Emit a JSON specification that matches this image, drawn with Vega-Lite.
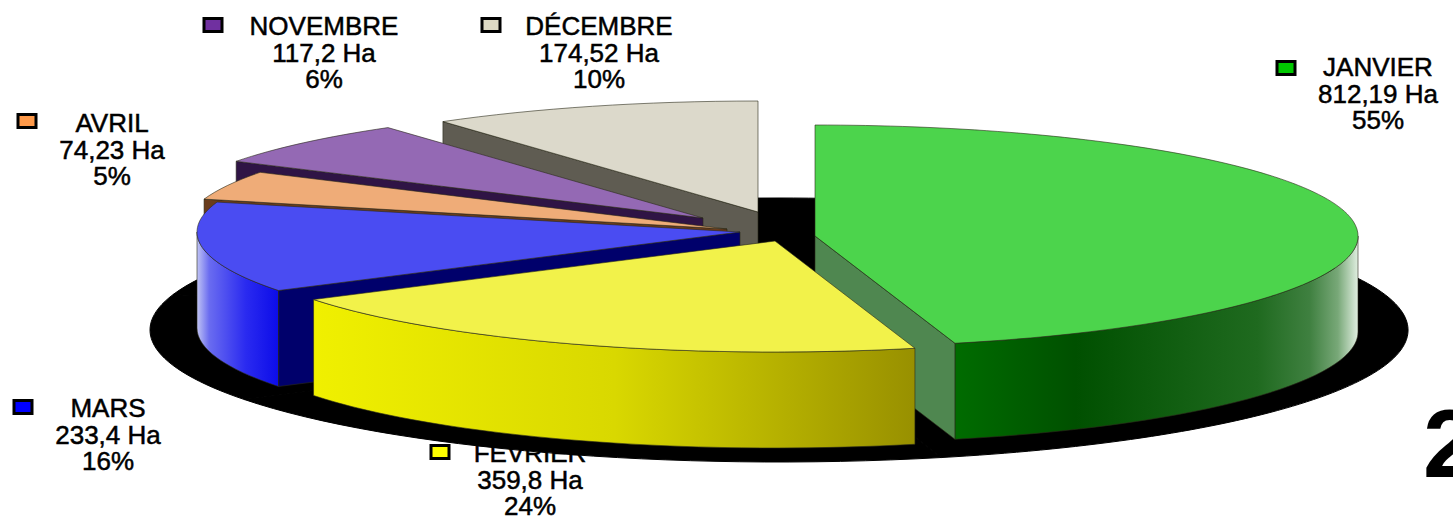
{
  "$schema": "https://vega.github.io/schema/vega-lite/v6.json",
  "width": 1453, "height": 517, "padding": 0, "autosize": {"type": "none"}, "background": "#ffffff",
  "config": {"view": {"stroke": null}},
  "data": {"values": [
    {"mois": "JANVIER", "hectares": 812.19, "pourcentage": 55},
    {"mois": "FEVRIER", "hectares": 359.8, "pourcentage": 24},
    {"mois": "MARS", "hectares": 233.4, "pourcentage": 16},
    {"mois": "AVRIL", "hectares": 74.23, "pourcentage": 5},
    {"mois": "NOVEMBRE", "hectares": 117.2, "pourcentage": 6},
    {"mois": "DÉCEMBRE", "hectares": 174.52, "pourcentage": 10}
  ]},
  "transform": [
    {"window": [{"op": "sum", "field": "hectares", "as": "cum"}, {"op": "row_number", "as": "i"}], "ignorePeers": true},
    {"joinaggregate": [{"op": "sum", "field": "hectares", "as": "total"}]},
    {"calculate": "-90+360*datum.cum/datum.total", "as": "a1"},
    {"calculate": "datum.a1-360*datum.hectares/datum.total", "as": "a0"}
  ],
  "layer": [
    {
      "transform": [
        {"calculate": "{'JANVIER':1378,'FEVRIER':530,'MARS':108,'AVRIL':112,'NOVEMBRE':324,'DÉCEMBRE':599}[datum.mois]", "as": "lx"},
        {"calculate": "{'JANVIER':76,'FEVRIER':462,'MARS':417,'AVRIL':132,'NOVEMBRE':35,'DÉCEMBRE':35}[datum.mois]", "as": "ly"},
        {"calculate": "datum.mois+'\\n'+replace(datum.hectares+'','.',',')+' Ha\\n'+datum.pourcentage+'%'", "as": "label"}
      ],
      "mark": {"type": "text", "font": "Liberation Sans", "fontSize": 26, "align": "center", "baseline": "alphabetic", "lineBreak": "\n", "lineHeight": 26.7, "fill": "#000000", "stroke": "#000000", "strokeWidth": 0.5},
      "encoding": {
        "x": {"field": "lx", "type": "quantitative", "scale": {"domain": [0, 1453], "range": [0, 1453], "nice": false, "zero": false}, "axis": null},
        "y": {"field": "ly", "type": "quantitative", "scale": {"domain": [0, 517], "range": [0, 517], "nice": false, "zero": false}, "axis": null},
        "text": {"field": "label", "type": "nominal"}
      }
    },
    {
      "transform": [
        {"calculate": "{'JANVIER':1286,'FEVRIER':440,'MARS':23,'AVRIL':27,'NOVEMBRE':213,'DÉCEMBRE':491}[datum.mois]", "as": "sx"},
        {"calculate": "{'JANVIER':68,'FEVRIER':452,'MARS':407,'AVRIL':121,'NOVEMBRE':25,'DÉCEMBRE':25}[datum.mois]", "as": "sy"}
      ],
      "mark": {"type": "point", "shape": "M-9,-6.5H9V6.5H-9Z", "size": 4, "filled": true, "opacity": 1, "stroke": "#000000", "strokeWidth": 3},
      "encoding": {
        "x": {"field": "sx", "type": "quantitative", "axis": null, "scale": {"domain": [0, 1453], "range": [0, 1453], "nice": false, "zero": false}},
        "y": {"field": "sy", "type": "quantitative", "axis": null, "scale": {"domain": [0, 517], "range": [0, 517], "nice": false, "zero": false}},
        "fill": {"field": "mois", "type": "nominal", "legend": null, "scale": {
          "domain": ["JANVIER", "FEVRIER", "MARS", "AVRIL", "NOVEMBRE", "DÉCEMBRE"],
          "range": ["#00c800", "#ffff00", "#0000ff", "#ff9a4a", "#7030a0", "#ddd9c3"]}}
      }
    },
    {
      "transform": [
        {"calculate": "'M779,330L'+(779+629*cos(datum.a0*PI/180))+','+(330+132*sin(datum.a0*PI/180))+'A629,132 0 0 1 '+(779+629*cos(datum.a1*PI/180))+','+(330+132*sin(datum.a1*PI/180))+'Z'", "as": "ombre"}
      ],
      "mark": {"type": "point", "filled": true, "opacity": 1, "fill": "#000000", "stroke": "#000000", "strokeWidth": 1},
      "encoding": {
        "x": {"value": 0}, "y": {"value": 0}, "size": {"value": 4},
        "shape": {"field": "ombre", "type": "nominal", "scale": null, "legend": null}
      }
    },
    {
      "transform": [
        {"calculate": "{'JANVIER':815,'FEVRIER':775,'MARS':740,'AVRIL':727,'NOVEMBRE':703,'DÉCEMBRE':758}[datum.mois]", "as": "cx"},
        {"calculate": "{'JANVIER':236,'FEVRIER':241,'MARS':232,'AVRIL':229,'NOVEMBRE':218,'DÉCEMBRE':212}[datum.mois]", "as": "cy"},
        {"calculate": "datum.cx+543*cos(datum.a0*PI/180)", "as": "x0"},
        {"calculate": "datum.cy+111*sin(datum.a0*PI/180)", "as": "y0"},
        {"calculate": "datum.cx+543*cos(datum.a1*PI/180)", "as": "x1"},
        {"calculate": "datum.cy+111*sin(datum.a1*PI/180)", "as": "y1"},
        {"calculate": "'M'+datum.cx+','+datum.cy+'L'+datum.x0+','+datum.y0+'A543,111 0 '+(datum.a1-datum.a0>180?1:0)+' 1 '+datum.x1+','+datum.y1+'Z'", "as": "pTop"},
        {"calculate": "sin((datum.a1+90)*PI/180)>0.000001?1:(sin((datum.a0-90)*PI/180)>0.000001?0:-1)", "as": "faceEdge"},
        {"calculate": "datum.faceEdge<0?'':'M'+datum.cx+','+datum.cy+'L'+(datum.faceEdge==1?datum.x1:datum.x0)+','+(datum.faceEdge==1?datum.y1:datum.y0)+'V'+((datum.faceEdge==1?datum.y1:datum.y0)+96)+'L'+datum.cx+','+(datum.cy+96)+'Z'", "as": "pFace"},
        {"calculate": "max(datum.a0,0)", "as": "w0"},
        {"calculate": "min(datum.a1,180)", "as": "w1"},
        {"calculate": "datum.cx+543*cos(datum.w0*PI/180)", "as": "xw0"},
        {"calculate": "datum.cy+111*sin(datum.w0*PI/180)", "as": "yw0"},
        {"calculate": "datum.cx+543*cos(datum.w1*PI/180)", "as": "xw1"},
        {"calculate": "datum.cy+111*sin(datum.w1*PI/180)", "as": "yw1"},
        {"calculate": "datum.w0<datum.w1?'M'+datum.xw0+','+datum.yw0+'A543,111 0 0 1 '+datum.xw1+','+datum.yw1+'V'+(datum.yw1+96)+'A543,111 0 0 0 '+datum.xw0+','+(datum.yw0+96)+'Z':''", "as": "pWall"},
        {"calculate": "['wall','face','top']", "as": "part"},
        {"flatten": ["part"]},
        {"calculate": "datum.part=='top'?datum.pTop:(datum.part=='face'?datum.pFace:datum.pWall)", "as": "p"},
        {"filter": "datum.p!=''"},
        {"calculate": "datum.mois+'|'+datum.part", "as": "key"},
        {"calculate": "(datum.i==1?0:7-datum.i)*3+(datum.part=='wall'?0:(datum.part=='face'?1:2))", "as": "z"},
        {"calculate": "{'JANVIER|top':'#4cd44c','FEVRIER|top':'#f2f24a','MARS|top':'#4a4cf2','AVRIL|top':'#efac78','NOVEMBRE|top':'#9469b4','DÉCEMBRE|top':'#dcd9cb','JANVIER|face':'#4f8750','MARS|face':'#00006b','AVRIL|face':'#6a3c1c','NOVEMBRE|face':'#2f1445','DÉCEMBRE|face':'#5f5c52','JANVIER|wall':{gradient:'linear',x1:0,y1:0,x2:1,y2:0,stops:[{offset:0,color:'#006c00'},{offset:0.3,color:'#005000'},{offset:0.75,color:'#1f6a1f'},{offset:0.88,color:'#3f8040'},{offset:0.95,color:'#78a878'},{offset:1,color:'#e0eee0'}]},'FEVRIER|wall':{gradient:'linear',x1:0,y1:0,x2:1,y2:0,stops:[{offset:0,color:'#f0f000'},{offset:0.5,color:'#d9d800'},{offset:1,color:'#989000'}]},'MARS|wall':{gradient:'linear',x1:0,y1:0,x2:1,y2:0,stops:[{offset:0,color:'#c0c4f4'},{offset:0.15,color:'#6a6cf0'},{offset:0.6,color:'#2a2af0'},{offset:1,color:'#0c0ce8'}]}}[datum.key]", "as": "teinte"}
      ],
      "mark": {"type": "point", "filled": true, "opacity": 1, "stroke": "#2a2a1a", "strokeWidth": 0.6},
      "encoding": {
        "x": {"value": 0}, "y": {"value": 0}, "size": {"value": 4},
        "shape": {"field": "p", "type": "nominal", "scale": null, "legend": null},
        "order": {"field": "z", "type": "quantitative"},
        "fill": {"field": "teinte", "type": "nominal", "scale": null, "legend": null}
      }
    },
    {
      "transform": [{"filter": "datum.i==1"}],
      "mark": {"type": "text", "text": "2", "font": "Liberation Sans", "fontWeight": "bold", "fontSize": 97, "align": "left", "baseline": "alphabetic", "fill": "#000000"},
      "encoding": {"x": {"value": 1423}, "y": {"value": 477}}
    }
  ]
}
